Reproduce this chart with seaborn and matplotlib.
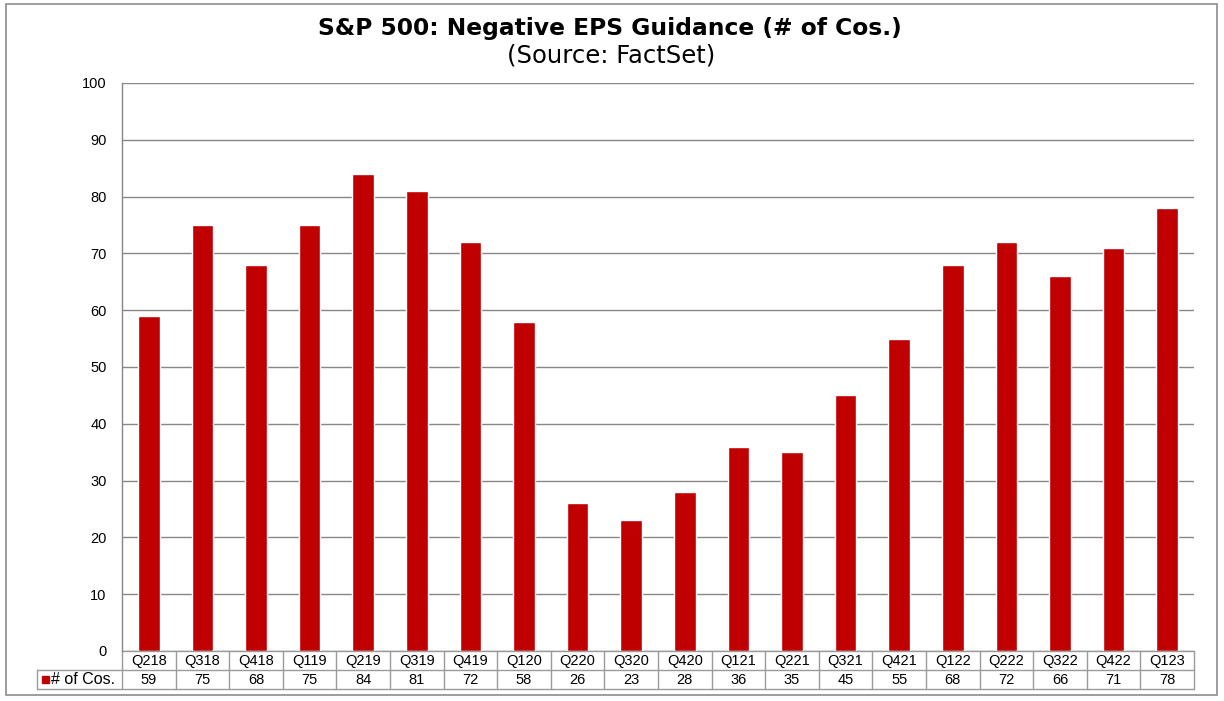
import numpy as np
import pandas as pd
import matplotlib
matplotlib.use('Agg')
import matplotlib.pyplot as plt
import seaborn as sns
from matplotlib.patches import Rectangle

sns.set_theme(style="white")
plt.rcParams['font.family'] = ['Liberation Sans', 'DejaVu Sans']
plt.rcParams['text.color'] = 'black'

# ── data ──
quarters = ['Q218', 'Q318', 'Q418', 'Q119', 'Q219', 'Q319', 'Q419', 'Q120', 'Q220', 'Q320',
            'Q420', 'Q121', 'Q221', 'Q321', 'Q421', 'Q122', 'Q222', 'Q322', 'Q422', 'Q123']
num_cos = [59, 75, 68, 75, 84, 81, 72, 58, 26, 23, 28, 36, 35, 45, 55, 68, 72, 66, 71, 78]
series_name = '# of Cos.'
title = 'S&P 500: Negative EPS Guidance (# of Cos.)'
subtitle = '(Source: FactSet)'

df = pd.DataFrame({'quarter': quarters, 'n': num_cos})
RED = '#C00000'
GRID = '#878787'

W, H = 1224, 701
fig = plt.figure(figsize=(W / 100, H / 100), dpi=100)
# plot area in pixels: x 122..1194, y 83..651
ax = fig.add_axes([122 / W, 1 - 651 / H, (1194 - 122) / W, (651 - 83) / H])

sns.barplot(data=df, x='quarter', y='n', color=RED, saturation=1, width=0.4, ax=ax)
ax.set_xlim(-0.5, len(quarters) - 0.5)
ax.set_ylim(0, 100)
ax.set_yticks(range(0, 101, 10))
ax.yaxis.grid(True, color=GRID, lw=1)
ax.set_axisbelow(True)
ax.set_xlabel('')
ax.set_ylabel('')
ax.set_xticks([])
ax.tick_params(axis='y', labelsize=10.5, length=0, pad=11, colors='black')
for s in ['top', 'right', 'bottom']:
    ax.spines[s].set_visible(False)
ax.spines['left'].set_color(GRID)
ax.spines['left'].set_linewidth(1)

# ── data table under the plot ──
row_h = 19 / (651 - 83)
trans = ax.get_xaxis_transform()
n = len(quarters)
lc = '#9a9a9a'
for i, (q, v) in enumerate(zip(quarters, num_cos)):
    ax.text(i, -row_h / 2, q, transform=trans, ha='center', va='center', fontsize=10.5, clip_on=False)
    ax.text(i, -1.5 * row_h, str(v), transform=trans, ha='center', va='center', fontsize=10.5, clip_on=False)
# horizontal lines
for yy in [0, -row_h, -2 * row_h]:
    ax.plot([-0.5, n - 0.5], [yy, yy], transform=trans, color=lc, lw=1, clip_on=False)
# vertical lines
for i in range(n + 1):
    ax.plot([i - 0.5, i - 0.5], [0, -2 * row_h], transform=trans, color=lc, lw=1, clip_on=False)
# legend cell (left of the second row)
x_leg = -0.5 - (122 - 37) / ((1194 - 122) / n)
ax.plot([x_leg, -0.5], [-row_h, -row_h], transform=trans, color=lc, lw=1, clip_on=False)
ax.plot([x_leg, -0.5], [-2 * row_h, -2 * row_h], transform=trans, color=lc, lw=1, clip_on=False)
ax.plot([x_leg, x_leg], [-row_h, -2 * row_h], transform=trans, color=lc, lw=1, clip_on=False)
fig.patches.append(Rectangle((42 / W, 1 - 683 / H), 7 / W, 7 / H, transform=fig.transFigure,
                             color=RED, zorder=5))
fig.text(51 / W, 1 - 679.5 / H, series_name, ha='left', va='center', fontsize=11.5)

# ── titles ──
fig.text(610 / W, 1 - 28 / H, title, ha='center', va='center', fontsize=16.8,
         fontweight='bold', family='DejaVu Sans')
fig.text(611 / W, 1 - 55 / H, subtitle, ha='center', va='center', fontsize=17.5,
         family='DejaVu Sans')

# outer frame
fig.patches.append(Rectangle((6 / W, 1 - 695 / H), (1217 - 6) / W, (695 - 4) / H,
                             transform=fig.transFigure, fill=False, edgecolor='#8c8c8c', lw=1.2))

fig.savefig('out.png', dpi=100)
